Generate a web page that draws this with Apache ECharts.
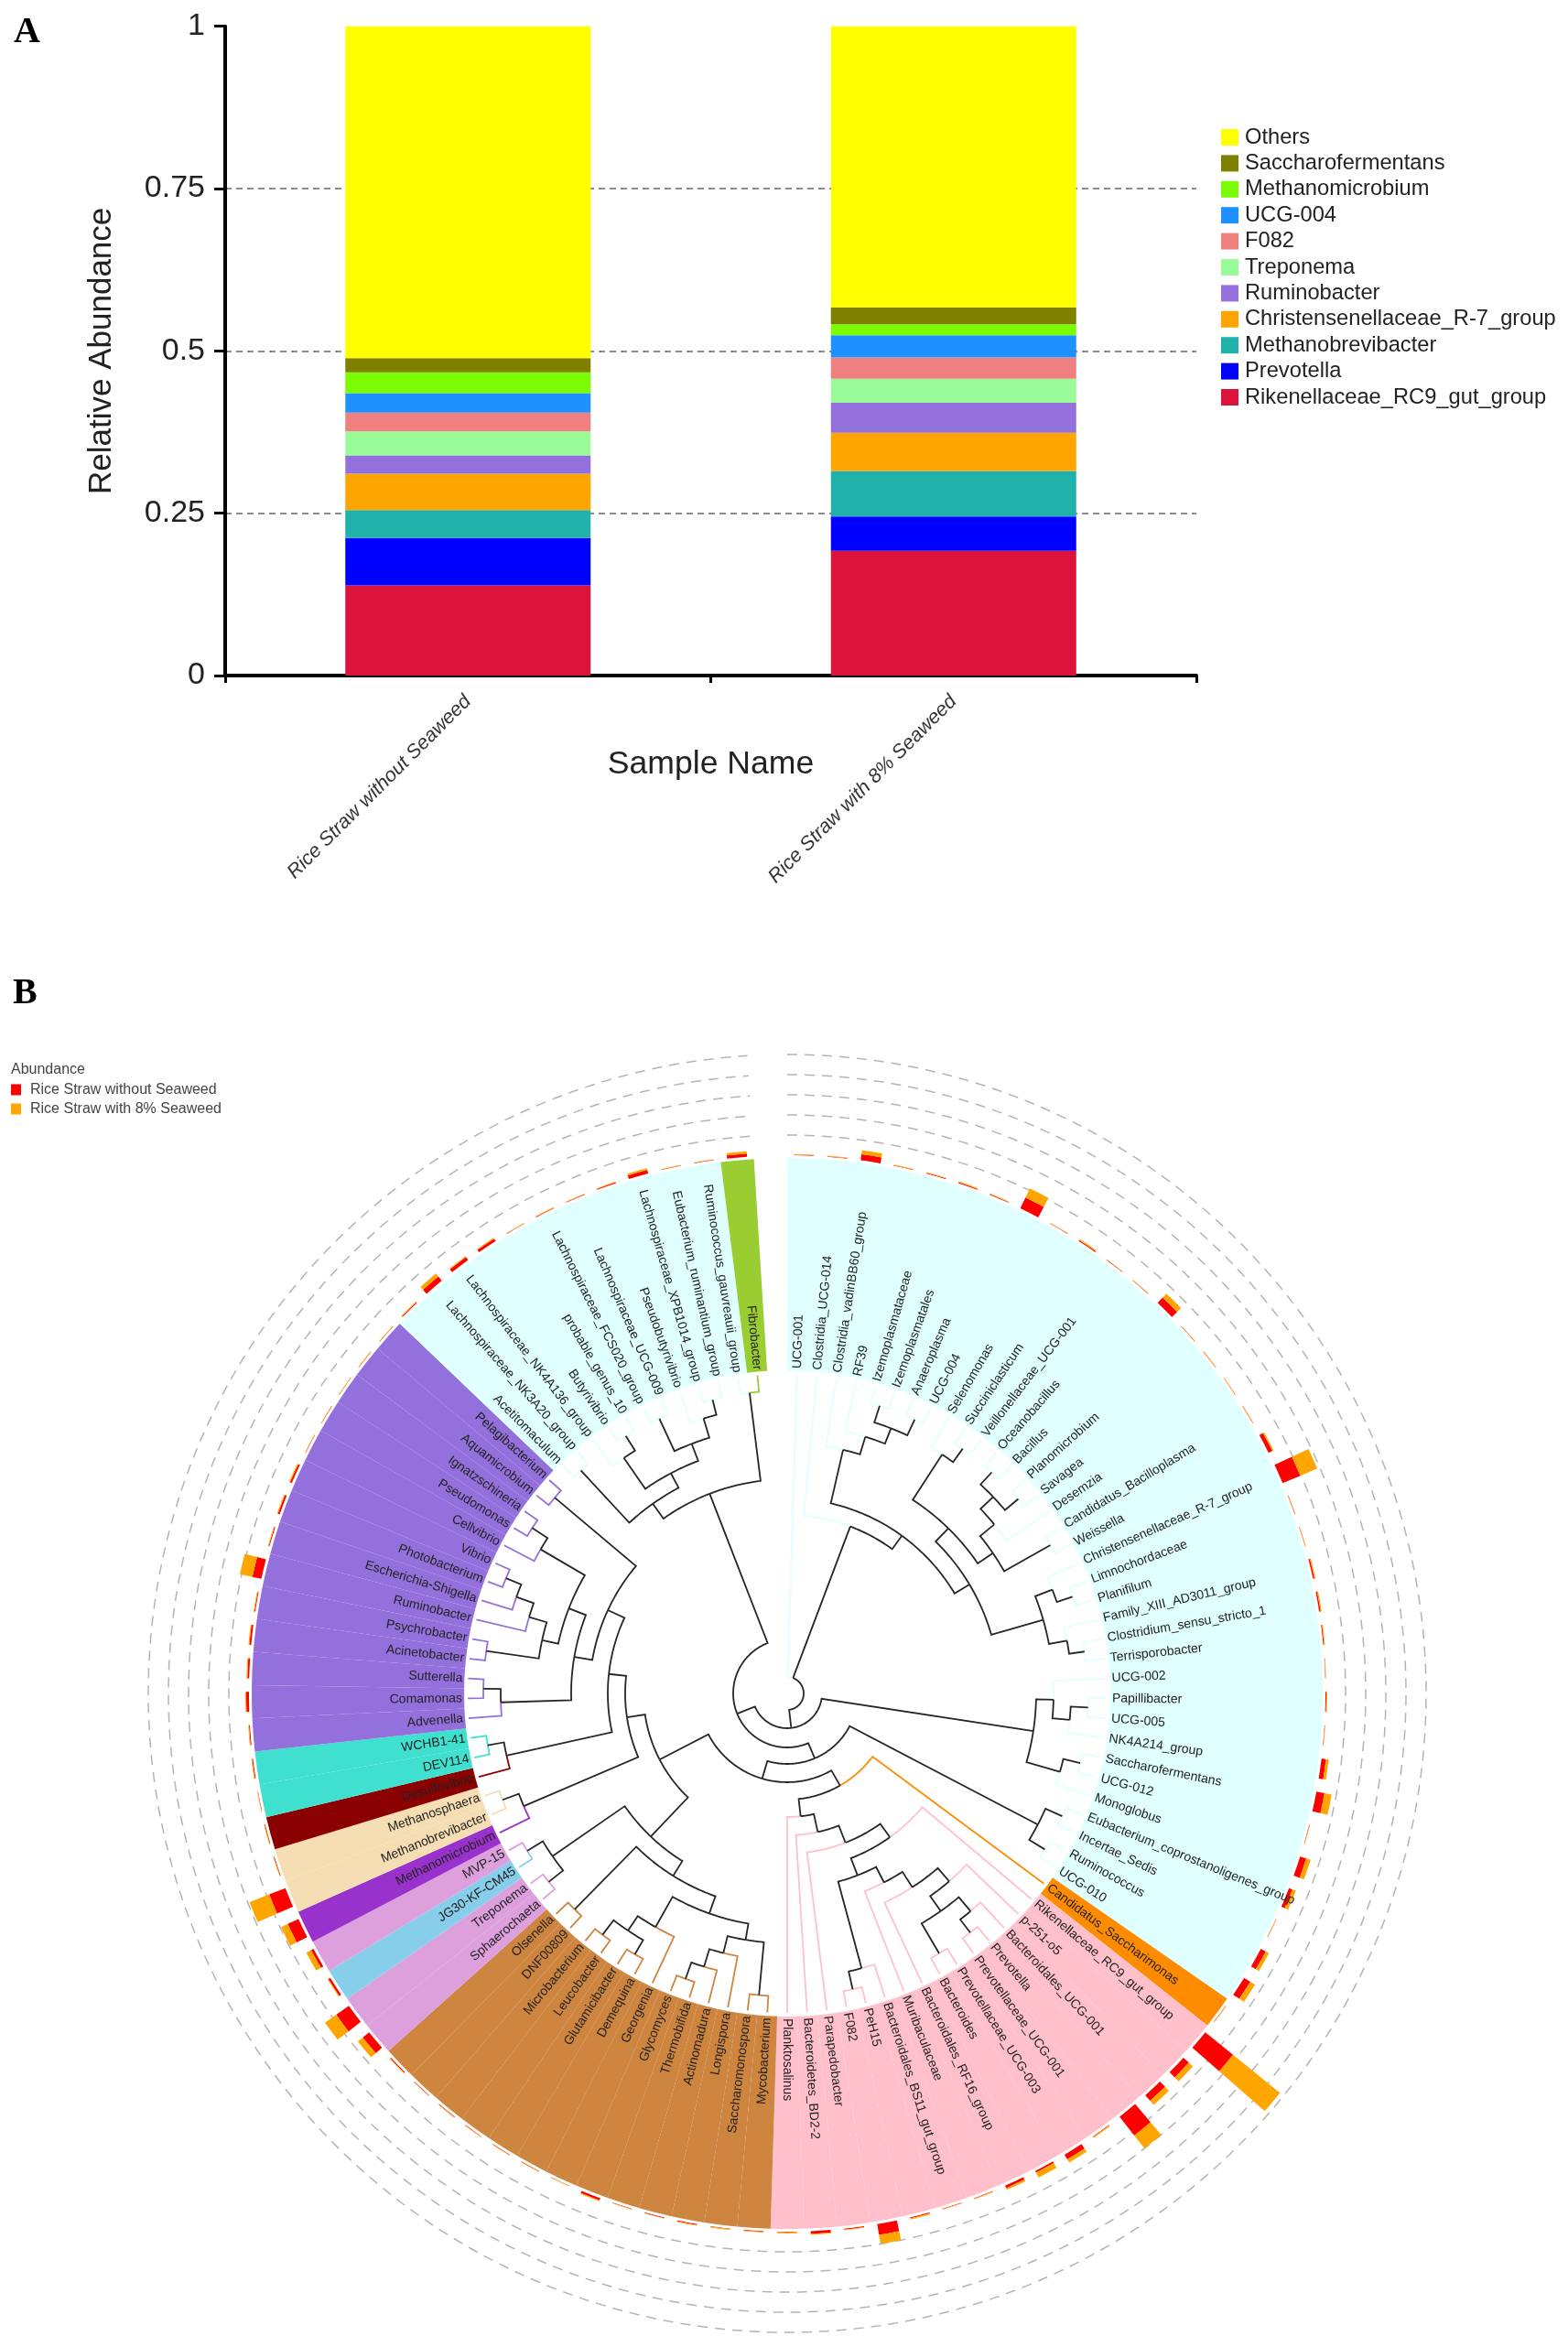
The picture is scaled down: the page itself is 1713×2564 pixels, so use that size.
<!DOCTYPE html>
<html>
<head>
<meta charset="utf-8">
<title>Relative abundance and phylogeny</title>
<script src="https://cdn.jsdelivr.net/npm/echarts@6/dist/echarts.min.js"></script>
<style>html,body{margin:0;padding:0;background:#fff}#chart{width:1713px;height:2564px}</style>
</head>
<body>
<div id="chart"></div>
<script>
// ---------- Panel A data ----------
const samples = ['Rice Straw without Seaweed', 'Rice Straw with 8% Seaweed'];
const genera = ['Rikenellaceae_RC9_gut_group','Prevotella','Methanobrevibacter','Christensenellaceae_R-7_group','Ruminobacter','Treponema','F082','UCG-004','Methanomicrobium','Saccharofermentans','Others'];
const generaColors = ['#dc143c','#0000ff','#20b2aa','#ffa500','#9370db','#98fb98','#f08080','#1e90ff','#7cfc00','#808000','#ffff00'];
const withoutSeaweed = [0.139,0.073,0.043,0.056,0.028,0.037,0.029,0.030,0.032,0.022,0.511];
const withSeaweed = [0.192,0.053,0.070,0.059,0.046,0.037,0.033,0.034,0.017,0.026,0.433];
const yTicks = [0,0.25,0.5,0.75,1];

// ---------- Panel B data ----------
const leafNames = ['UCG-001','Clostridia_UCG-014','Clostridia_vadinBB60_group','RF39','Izemoplasmataceae','Izemoplasmatales','Anaeroplasma','UCG-004','Selenomonas','Succiniclasticum','Veillonellaceae_UCG-001','Oceanobacillus','Bacillus','Planomicrobium','Savagea','Desemzia','Candidatus_Bacilloplasma','Weissella','Christensenellaceae_R-7_group','Limnochordaceae','Planifilum','Family_XIII_AD3011_group','Clostridium_sensu_stricto_1','Terrisporobacter','UCG-002','Papillibacter','UCG-005','NK4A214_group','Saccharofermentans','UCG-012','Monoglobus','Eubacterium_coprostanoligenes_group','Incertae_Sedis','Ruminococcus','UCG-010',
'Candidatus_Saccharimonas',
'Rikenellaceae_RC9_gut_group','p-251-o5','Bacteroidales_UCG-001','Prevotella','Prevotellaceae_UCG-001','Prevotellaceae_UCG-003','Bacteroides','Bacteroidales_RF16_group','Muribaculaceae','Bacteroidales_BS11_gut_group','PeH15','F082','Parapedobacter','Bacteroidetes_BD2-2','Planktosalinus',
'Mycobacterium','Saccharomonospora','Longispora','Actinomadura','Thermobifida','Glycomyces','Georgenia','Demequina','Glutamicibacter','Leucobacter','Microbacterium','DNF00809','Olsenella',
'Sphaerochaeta','Treponema','JG30-KF-CM45','MVP-15','Methanomicrobium','Methanobrevibacter','Methanosphaera','Desulfovibrio','DEV114','WCHB1-41',
'Advenella','Comamonas','Sutterella','Acinetobacter','Psychrobacter','Ruminobacter','Escherichia-Shigella','Photobacterium','Vibrio','Cellvibrio','Pseudomonas','Ignatzschineria','Aquamicrobium','Pelagibacterium',
'Acetitomaculum','Lachnospiraceae_NK3A20_group','Lachnospiraceae_NK4A136_group','Butyrivibrio','probable_genus_10','Lachnospiraceae_FCS020_group','Lachnospiraceae_UCG-009','Pseudobutyrivibrio','Lachnospiraceae_XPB1014_group','Eubacterium_ruminantium_group','Ruminococcus_gauvreauii_group','Fibrobacter'];
const cladeSizes = [35,1,15,13,2,1,1,1,2,1,2,14,11,1];
const cladeColors = ['#e0ffff','#ff8c00','#ffc0cb','#cd853f','#dda0dd','#87ceeb','#dda0dd','#9932cc','#f5deb3','#8b0000','#40e0d0','#9370db','#e0ffff','#9acd32'];
const abundanceWithout = [.6,.5,6.5,.7,.7,1,.7,13,.5,1,.5,.5,8,.4,.4,.4,.4,4.5,21,.4,.4,1.5,1.5,1,.4,1,.4,5,9,.4,7,4,.4,6,8,.4,39,8,8,26,.6,6,2,3,.7,.5,1,12,1,3,.7,.7,.6,1,.7,.5,2.5,.5,.5,.5,.5,.6,.5,1,9,17,2.5,3,13,19,.7,.7,.4,1,1,3,2,2,1,10,1,2,2,.4,.4,.4,.4,.4,1,6,4,3,.5,.6,.6,1,4,.5,.4,3.5];
const abundanceWith = [.7,.6,4.5,.7,.8,1,.8,11,.6,1.2,.5,.5,6,.5,.5,.5,.5,1.5,20,.5,.5,1.2,1.2,.8,.5,.8,.5,3,8,.5,5,4,.5,4,6,.5,66,6,6,18,1.2,4,6,2,.8,.5,1.2,10,.8,1,1.2,.8,.8,.8,.6,.5,1,.5,.5,.5,.5,.7,.5,.8,7,15,1,6,8,23,.7,.7,.5,.8,.8,1,1,1,.8,14,.7,1,1.2,.5,.5,.5,.5,.5,.8,4,1,1,.5,.8,.7,.8,2,.7,.5,2.5];
const ringRadii = [610,632,654,676,698];
const N = (r, ...kids) => ({r, kids});
// Tree: N(depth, ...children); a bare number is a leaf index into leafNames.
const firmicutesUpper = N(195,1,N(213,N(273,2,N(293,3,N(311,N(330,4,5),N(330,6,7)))),N(232,N(252,N(311,8,N(329,9,10)),N(272,N(292,N(311,N(329,11,12),N(330,13,14)),15),N(330,16,17))),N(291,N(311,18,N(329,19,20)),N(311,21,N(328,22,23))))));
const firmicutesLower = N(272,N(291,24,N(310,N(329,25,26),27)),N(310,N(329,28,29),30));
const firmicutesTail = N(309,N(329,31,32),N(329,33,34));
const bacteroidetes = N(135,N(155,N(175,N(193,36,N(213,N(232,N(252,N(271,37,N(291,N(311,38,N(329,39,40)),N(329,41,42))),43),44),N(311,45,N(331,46,47)))),48),49),50);
const actinobacteria = N(235,N(331,62,63),N(255,N(293,57,N(312,N(332,60,61),N(330,58,59))),N(273,N(292,53,N(312,54,N(331,55,56))),N(331,51,52))));
const proteoUpper = N(236,N(313,74,N(332,75,76)),N(256,N(274,N(332,77,78),N(294,79,N(314,80,N(332,81,82)))),N(312,83,N(332,84,85))));
const midGroup = N(177,N(313,68,N(332,69,70)),N(196,N(314,71,N(332,72,73)),N(216,proteoUpper,N(332,86,87))));
const spiroGroup = N(216,N(312,N(332,64,65),N(332,66,67)),actinobacteria);
const lachnoGroup = N(234,N(254,N(332,88,89),N(272,N(313,90,N(332,91,92)),N(292,N(331,93,94),N(314,95,N(331,96,97))))),N(331,98,99));
const treeRoot = N(18,0,firmicutesUpper,N(38,firmicutesLower,N(59,N(77,firmicutesTail,N(97,N(116,35,bacteroidetes),N(157,midGroup,spiroGroup))),lachnoGroup)));

// ---------- Derived ----------
const leafColor = [];
cladeSizes.forEach((n, i) => { for (let k = 0; k < n; k++) leafColor.push(cladeColors[i]); });
const angleCats = leafNames.concat(['']);
const UNIT = 720, SECTOR_IN = 353, SECTOR_OUT = 585, BAR_BASE = 588, LEAF_END = 349, LABEL_R = 355;
const TREE_COLOR = '#262626';
const segments = [];
function arcPts(r, a1, a2) {
  const pts = [], n = Math.max(1, Math.ceil(Math.abs(a2 - a1) / 0.2));
  for (let i = 0; i <= n; i++) pts.push([r, a1 + (a2 - a1) * i / n]);
  return pts;
}
function place(node) {
  if (typeof node === 'number') return {a: node + 0.5, r: LEAF_END, color: leafColor[node]};
  const kids = node.kids.map(place);
  const as = kids.map(k => k.a);
  const a = node === treeRoot ? as[1] : (Math.min(...as) + Math.max(...as)) / 2;
  kids.forEach(k => {
    const color = k.color || TREE_COLOR;
    segments.push({pts: arcPts(node.r, a, k.a).concat([[k.r, k.a]]), color});
  });
  return {a, r: node.r};
}
place(treeRoot);
const rings = ringRadii.map(r => arcPts(r, 0, 100));

const noAxis = {axisLine:{show:false},axisTick:{show:false},axisLabel:{show:false},splitLine:{show:false},splitArea:{show:false}};
const polarCfg = {center:[860,1850], radius:UNIT};
const fontA = 'Liberation Sans';

const series = [];
genera.forEach((g, i) => series.push({
  name: g, type:'bar', stack:'a', xAxisIndex:0, yAxisIndex:0, barWidth:268,
  itemStyle:{color:generaColors[i]}, emphasis:{disabled:true},
  data:[withoutSeaweed[i], withSeaweed[i]], z:3
}));
// Clade background sectors
series.push({type:'bar', coordinateSystem:'polar', polarIndex:0, stack:'sector', barWidth:'100%', silent:true,
  itemStyle:{color:'rgba(0,0,0,0)'}, data:angleCats.map((c,i)=> i<100 ? SECTOR_IN : 0), z:1});
series.push({name:'clade', type:'bar', coordinateSystem:'polar', polarIndex:0, stack:'sector', barWidth:'100%', silent:true,
  data:angleCats.map((c,i)=> i<100 ? {value:SECTOR_OUT-SECTOR_IN, itemStyle:{color:leafColor[i]}} : 0), z:1});
// Abundance bars
series.push({type:'bar', coordinateSystem:'polar', polarIndex:1, stack:'abund', barWidth:'60%', silent:true,
  itemStyle:{color:'rgba(0,0,0,0)'}, data:angleCats.map((c,i)=> i<100 ? BAR_BASE : 0), z:2});
series.push({name:samples[0], type:'bar', coordinateSystem:'polar', polarIndex:1, stack:'abund', barWidth:'60%', silent:true,
  itemStyle:{color:'#ff0000'}, data:abundanceWithout.concat([0]), z:2});
series.push({name:samples[1], type:'bar', coordinateSystem:'polar', polarIndex:1, stack:'abund', barWidth:'60%', silent:true,
  itemStyle:{color:'#ffa500'}, data:abundanceWith.concat([0]), z:2});
// Dashed rings
series.push({type:'custom', coordinateSystem:'polar', polarIndex:2, silent:true, z:2,
  data:ringRadii.map(r=>[r,0]), encode:{radius:0,angle:1},
  renderItem:(p,api)=>({type:'polyline', shape:{points:rings[p.dataIndex].map(q=>api.coord(q))},
    style:{stroke:'#b4b4b4', fill:'none', lineWidth:1.5, lineDash:[11,8]}})});
// Tree branches
series.push({type:'custom', coordinateSystem:'polar', polarIndex:2, silent:true, z:4,
  data:segments.map(s=>s.pts[0]), encode:{radius:0,angle:1},
  renderItem:(p,api)=>{const s=segments[p.dataIndex];return {type:'polyline', shape:{points:s.pts.map(q=>api.coord(q))},
    style:{stroke:s.color, fill:'none', lineWidth:1.8}};}});
// Leaf labels
series.push({type:'custom', coordinateSystem:'polar', polarIndex:2, silent:true, z:5,
  data:leafNames.map((n,i)=>[LABEL_R,i+0.5]), encode:{radius:0,angle:1},
  renderItem:(p,api)=>{
    const i=p.dataIndex, deg=(i+0.5)*360/101, right=deg<180.5, c=api.coord([LABEL_R,i+0.5]);
    return {type:'text', x:c[0], y:c[1], rotation:(right?90-deg:270-deg)*Math.PI/180,
      style:{text:leafNames[i], align:right?'left':'right', verticalAlign:'middle',
        font:'14px "'+fontA+'"', fill:'#222'}};
  }});

const option = {
  animation:false, backgroundColor:'#fff',
  title:[
    {text:'A', left:15, top:16, textStyle:{fontFamily:'Liberation Serif', fontWeight:'bold', fontSize:40, color:'#000'}, padding:0},
    {text:'B', left:14, top:1066, textStyle:{fontFamily:'Liberation Serif', fontWeight:'bold', fontSize:40, color:'#000'}, padding:0},
    {text:'Abundance', left:12, top:1161, textStyle:{fontFamily:fontA, fontWeight:'normal', fontSize:16, color:'#444'}, padding:0}
  ],
  grid:{left:246, top:28.7, width:1061, height:709.3, containLabel:false},
  xAxis:{type:'category', data:samples, gridIndex:0,
    name:'Sample Name', nameLocation:'middle', nameGap:79, nameMoveOverlap:false,
    nameTextStyle:{fontFamily:fontA, fontSize:35.6, color:'#222'},
    axisLine:{lineStyle:{color:'#000', width:4}},
    axisTick:{show:true, length:8, lineStyle:{color:'#000', width:3}},
    axisLabel:{rotate:45, interval:0, margin:25, fontSize:21.5, fontStyle:'italic', fontFamily:fontA, color:'#333'},
    splitLine:{show:false}},
  yAxis:{type:'value', min:0, max:1, interval:0.25, gridIndex:0,
    name:'Relative Abundance', nameLocation:'middle', nameGap:117, nameRotate:90, nameMoveOverlap:false,
    nameTextStyle:{fontFamily:fontA, fontSize:35, color:'#222'},
    axisLine:{show:true, lineStyle:{color:'#000', width:4}},
    axisTick:{show:true, length:12, lineStyle:{color:'#000', width:3}},
    axisLabel:{margin:22, fontSize:34, fontFamily:fontA, color:'#222', formatter:v=>String(yTicks.indexOf(v)>=0?v:'')},
    splitLine:{show:true, showMinLine:false, showMaxLine:false, lineStyle:{color:'#8c8c8c', width:2.2, type:[7,5]}}},
  polar:[polarCfg,polarCfg,polarCfg],
  angleAxis:[
    Object.assign({polarIndex:0,type:'category',data:angleCats,startAngle:90,clockwise:true},noAxis),
    Object.assign({polarIndex:1,type:'category',data:angleCats,startAngle:90,clockwise:true},noAxis),
    Object.assign({polarIndex:2,type:'value',min:0,max:101,startAngle:90,clockwise:true},noAxis)
  ],
  radiusAxis:[0,1,2].map(i=>Object.assign({polarIndex:i,type:'value',min:0,max:UNIT},noAxis)),
  legend:[
    {data:genera.slice().reverse(), orient:'vertical', left:1334, top:137, selectedMode:false, icon:'rect',
     itemWidth:19, itemHeight:18, itemGap:2.4, padding:0,
     textStyle:{fontFamily:fontA, fontSize:23.7, color:'#222', padding:[0,0,0,2], lineHeight:26}},
    {data:samples, orient:'vertical', left:12, top:1181, selectedMode:false, icon:'rect',
     itemWidth:11, itemHeight:12, itemGap:2, padding:0,
     textStyle:{fontFamily:fontA, fontSize:16, color:'#444', padding:[0,0,0,5], lineHeight:19}}
  ],
  series
};
const chart = echarts.init(document.getElementById('chart'));
chart.setOption(option);
</script>
</body>
</html>
